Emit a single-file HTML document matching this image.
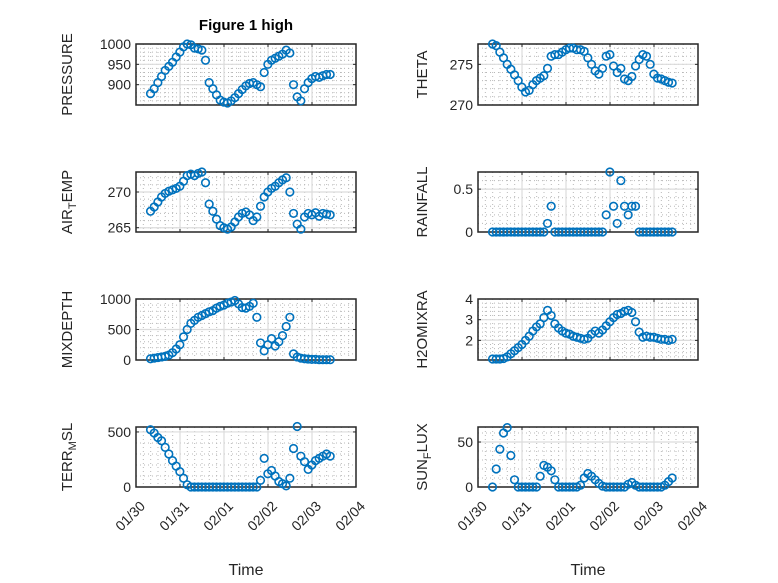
<!DOCTYPE html>
<html><head><meta charset="utf-8"><style>
body{margin:0;background:#fff}
svg{display:block;font-family:"Liberation Sans","DejaVu Sans",sans-serif}
</style></head><body>
<svg id="fig" width="778" height="583" viewBox="0 0 778 583" xmlns="http://www.w3.org/2000/svg">
<rect width="778" height="583" fill="#fff"/>
<text x="246" y="30" font-size="15" font-weight="bold" text-anchor="middle" fill="#000">Figure 1 high</text>
</svg>
<script>
const times=[];for(let i=0;i<50;i++)times.push(0.33+i/12);
const xTickLabels=["01/30","01/31","02/01","02/02","02/03","02/04"];
const pressure=[878,890,905,920,935,945,955,968,980,993,1000,998,990,988,985,960,905,890,875,862,857,855,860,868,878,888,897,903,905,900,895,930,950,960,965,970,975,985,978,900,870,860,890,905,915,920,918,922,925,925];
const theta=[277.5,277.3,276.5,275.8,275.0,274.4,273.7,273.0,272.2,271.6,271.8,272.5,273.0,273.3,273.6,274.5,276.0,276.2,276.2,276.5,276.8,277.0,277.0,276.8,276.8,276.6,275.8,275.0,274.2,273.8,274.5,276.0,276.2,274.8,274.0,274.5,273.2,273.0,273.5,274.8,275.6,276.2,276.0,275.0,273.8,273.3,273.2,273.0,272.8,272.7];
const airTemp=[267.3,267.9,268.6,269.3,269.8,270.1,270.3,270.5,270.8,271.5,272.3,272.5,272.3,272.6,272.8,271.3,268.3,267.3,266.2,265.3,265.0,264.8,265.1,265.8,266.5,267.0,267.2,266.8,266.0,266.5,268.0,269.3,270.0,270.5,270.8,271.3,271.7,272.0,270.0,267.0,265.5,264.8,266.5,267.0,266.8,267.1,266.6,267.0,266.9,266.8];
const rainfall=[0,0,0,0,0,0,0,0,0,0,0,0,0,0,0,0.1,0.3,0,0,0,0,0,0,0,0,0,0,0,0,0,0,0.2,0.7,0.3,0.1,0.6,0.3,0.2,0.3,0.3,0,0,0,0,0,0,0,0,0,0];
const mixDepth=[20,30,40,50,60,80,120,180,250,380,500,600,650,700,730,760,790,810,850,880,900,930,950,975,920,860,850,880,930,700,280,150,250,350,230,300,400,550,700,100,50,30,20,15,10,10,5,5,5,5];
const h2oMix=[1.1,1.1,1.1,1.12,1.2,1.35,1.5,1.65,1.8,2.0,2.2,2.45,2.65,2.8,3.1,3.45,3.2,2.8,2.6,2.45,2.35,2.3,2.2,2.15,2.1,2.05,2.1,2.3,2.45,2.35,2.5,2.7,2.9,3.1,3.25,3.3,3.4,3.45,3.35,2.9,2.4,2.15,2.2,2.15,2.15,2.1,2.05,2.05,2.0,2.05];
const terrMsl=[520,490,450,420,360,300,240,190,140,80,20,0,0,0,0,0,0,0,0,0,0,0,0,0,0,0,0,0,0,0,60,260,120,150,100,50,30,10,80,350,550,280,230,160,200,240,260,280,300,280];
const sunFlux=[0,20,42,60,66,35,8,0,0,0,0,0,0,12,24,22,18,8,0,0,0,0,0,0,2,10,15,12,8,4,1,0,0,0,0,0,0,3,5,2,0,0,0,0,0,0,0,2,6,10];
const pressureTicks=[900,950,1000],thetaTicks=[270,275],airTicks=[265,270],rainTicks=[0,0.5],mixTicks=[0,500,1000],h2oTicks=[2,3,4],terrTicks=[0,500],sunTicks=[0,50];

const NS="http://www.w3.org/2000/svg";
const svg=document.getElementById('fig');
function mk(tag,attrs,parent){const e=document.createElementNS(NS,tag);for(const k in attrs)e.setAttribute(k,attrs[k]);(parent||svg).appendChild(e);return e;}
const cols=[136,478],W=220,rows=[[44,105],[172,232],[299,360],[427,487]];
const panels=[
 {key:'pressure',data:pressure,ticks:pressureTicks,ylim:[850,1000],minor:10,col:0,row:0,label:['PRESSURE']},
 {key:'theta',data:theta,ticks:thetaTicks,ylim:[270,277.5],minor:1,col:1,row:0,label:['THETA']},
 {key:'air-temp',data:airTemp,ticks:airTicks,ylim:[264.4,272.8],minor:1,col:0,row:1,label:['AIR','T','EMP']},
 {key:'rainfall',data:rainfall,ticks:rainTicks,ylim:[0,0.7],minor:0.1,col:1,row:1,label:['RAINFALL']},
 {key:'mixdepth',data:mixDepth,ticks:mixTicks,ylim:[0,1000],minor:100,col:0,row:2,label:['MIXDEPTH']},
 {key:'h2omixra',data:h2oMix,ticks:h2oTicks,ylim:[1.05,4],minor:0.2,col:1,row:2,label:['H2OMIXRA']},
 {key:'terr-msl',data:terrMsl,ticks:terrTicks,ylim:[0,545],minor:100,col:0,row:3,label:['TERR','M','SL']},
 {key:'sun-flux',data:sunFlux,ticks:sunTicks,ylim:[0,66.7],minor:10,col:1,row:3,label:['SUN','F','LUX']}
];
panels.forEach(p=>{
 const x0=cols[p.col],x1=x0+W,y0=rows[p.row][0],y1=rows[p.row][1];
 const xs=t=>x0+t/5*W;
 const ys=v=>y1-(v-p.ylim[0])/(p.ylim[1]-p.ylim[0])*(y1-y0);
 const g=mk('g',{});
 
 
 for(let d=0;d<5;d++)for(let k=1;k<6;k++){const x=xs(d+k/6);mk('line',{x1:x,x2:x,y1:y0,y2:y1,stroke:'#b8b8b8','stroke-width':1,'stroke-dasharray':'1 3'},g);}
 const m0=Math.ceil(p.ylim[0]/p.minor-1e-9);
 for(let k=m0;k*p.minor<=p.ylim[1]+1e-9;k++){const v=k*p.minor;const y=ys(v);mk('line',{x1:x0,x2:x1,y1:y,y2:y,stroke:'#b8b8b8','stroke-width':1,'stroke-dasharray':'1 3'},g);}
 for(let d=1;d<5;d++){const x=xs(d);mk('line',{x1:x,x2:x,y1:y0,y2:y1,stroke:'#dcdcdc','stroke-width':1.2},g);}
 p.ticks.forEach(v=>{const y=ys(v);mk('line',{x1:x0,x2:x1,y1:y,y2:y,stroke:'#dcdcdc','stroke-width':1.2},g);
  const tl=mk('text',{x:x0-5,y:y+5,'font-size':14,'text-anchor':'end',fill:'#262626'},g);tl.textContent=String(v);
  
  
  mk('line',{x1:x0,x2:x0+3,y1:y,y2:y,stroke:'#262626'},g);mk('line',{x1:x1,x2:x1-3,y1:y,y2:y,stroke:'#262626'},g);});
 for(let d=0;d<=5;d++){const x=xs(d);mk('line',{x1:x,x2:x,y1:y1,y2:y1-3,stroke:'#262626'},g);mk('line',{x1:x,x2:x,y1:y0,y2:y0+3,stroke:'#262626'},g);}
 mk('rect',{x:x0,y:y0,width:W,height:y1-y0,fill:'none',stroke:'#262626','stroke-width':1.5},g);
 p.data.forEach((v,i)=>{const c=mk('circle',{cx:xs(times[i]),cy:ys(v),r:3.8,fill:'none',stroke:'#0072BD','stroke-width':1.6},g);
  
  });
 const lx=p.col===0?72:427,ly=(y0+y1)/2;
 const t=mk('text',{x:0,y:0,'font-size':15,'text-anchor':'middle',fill:'#262626',transform:`translate(${lx},${ly}) rotate(-90)`});
 
 
 p.label.forEach((s,i)=>{const ts=mk('tspan',{},t);ts.textContent=s;if(i===1){ts.setAttribute('font-size','11');ts.setAttribute('dy','4');}if(i===2){ts.setAttribute('dy','-4');}});
 if(p.row===3){
  for(let d=0;d<=5;d++){const x=xs(d);const tl=mk('text',{x:0,y:0,'font-size':14,'text-anchor':'end',fill:'#262626',transform:`translate(${x+10},${y1+20}) rotate(-45)`});tl.textContent=xTickLabels[d];
   
   }
  const xt=mk('text',{x:x0+W/2,y:575,'font-size':16,'text-anchor':'middle',fill:'#262626'});xt.textContent='Time';
  
  
 }
});
</script>
</body></html>
